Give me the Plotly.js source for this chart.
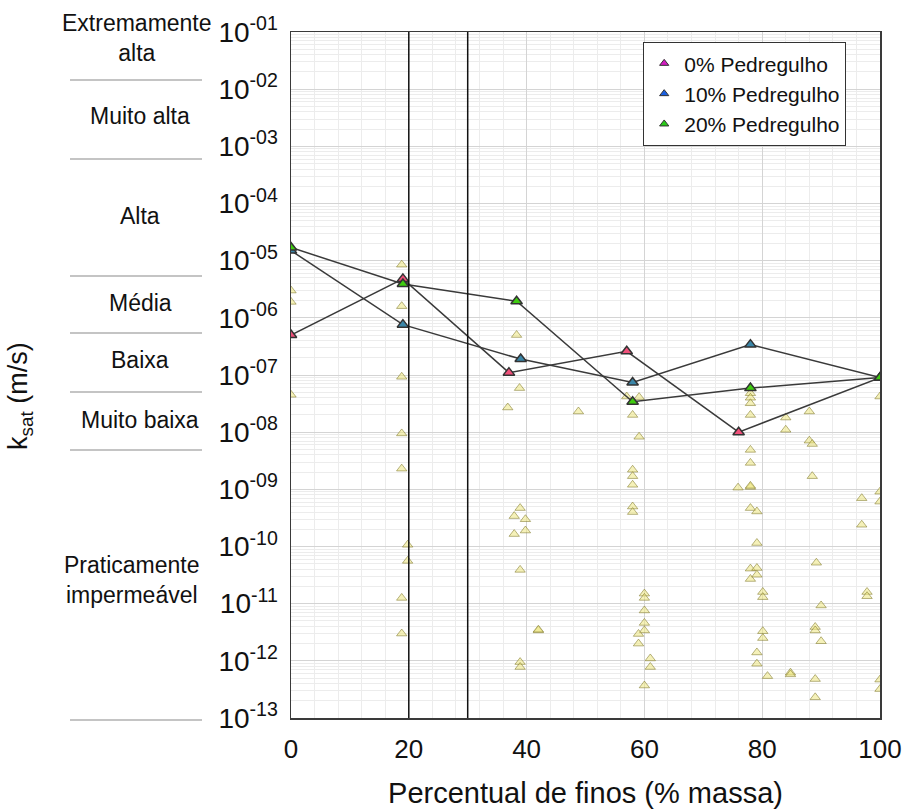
<!DOCTYPE html>
<html><head><meta charset="utf-8">
<script src="https://cdn.plot.ly/plotly-3.0.1.min.js"></script>
<style>html,body{margin:0;padding:0;background:#fff}#chart{width:904px;height:812px}</style>
</head><body><div id="chart"></div>
<script>
// ---- data ----
const seriesNames = ['0% Pedregulho', '10% Pedregulho', '20% Pedregulho'];
const finos0 = [0, 19, 37, 57, 76, 100];
const ksat0 = [5.0e-7, 4.8e-6, 1.1e-7, 2.6e-7, 1.0e-8, 9.0e-8];
const finos10 = [0, 19, 39, 58, 78, 100];
const ksat10 = [1.5e-5, 7.6e-7, 1.9e-7, 7.4e-8, 3.4e-7, 9.0e-8];
const finos20 = [0, 19, 38.3, 58, 78, 100];
const ksat20 = [1.7e-5, 3.9e-6, 1.95e-6, 3.4e-8, 5.9e-8, 9.0e-8];

// background data set (other soils)
const bgFinos = [
  0, 0, 0,
  18.8, 18.8, 18.8, 18.8, 18.8, 18.8, 18.8,
  19.8, 19.8,
  36.8, 38.3, 38.8, 48.8,
  38.9, 38.9, 38.9, 38.9,
  37.9, 37.9, 39.8, 39.8,
  42, 42,
  57, 59.1, 59.1,
  58, 58, 58, 58, 58, 58,
  60, 60, 60, 60, 60, 60,
  59, 59, 61, 61,
  78, 78, 78, 78, 78, 78, 78, 78, 78, 78, 78,
  75.9,
  79.1, 79.1, 79.1, 79.1, 79.1, 79.1,
  80.1, 80.1, 80.1, 80.1,
  80.9,
  84, 84, 84.8, 84.8,
  88, 88, 88.5, 88.5,
  89.2, 90, 90,
  89, 89, 89, 89,
  96.9, 96.9, 97.8, 97.8,
  100, 100, 100, 100, 100
];
const bgKsat = [
  3.0e-6, 1.9e-6, 4.5e-8,
  8.5e-6, 1.6e-6, 9.3e-8, 9.5e-9, 2.3e-9, 1.26e-11, 3.0e-12,
  1.07e-10, 5.6e-11,
  2.7e-8, 5.0e-7, 5.9e-8, 2.3e-8,
  4.7e-10, 3.9e-11, 9.5e-13, 7.8e-13,
  3.4e-10, 1.65e-10, 3.0e-10, 1.9e-10,
  3.4e-12, 3.5e-12,
  4.2e-8, 4.1e-8, 8.3e-9,
  2.0e-8, 2.2e-9, 1.7e-9, 1.2e-9, 5.0e-10, 4.0e-10,
  1.5e-11, 1.26e-11, 7.6e-12, 4.6e-12, 3.4e-12, 3.7e-13,
  2.95e-12, 2.0e-12, 1.1e-12, 7.8e-13,
  4.8e-8, 4.0e-8, 3.2e-8, 2.0e-8, 4.9e-9, 2.9e-9, 1.1e-9, 1.15e-9, 4.7e-10, 4.1e-11, 2.7e-11,
  1.07e-9,
  4.1e-10, 1.15e-10, 4.2e-11, 3.2e-11, 1.4e-12, 8.9e-13,
  1.6e-11, 1.3e-11, 3.3e-12, 2.5e-12,
  5.4e-13,
  1.8e-8, 1.1e-8, 6.2e-13, 5.8e-13,
  2.3e-8, 7.1e-9, 6.2e-9, 1.7e-9,
  5.2e-11, 9.3e-12, 2.2e-12,
  3.9e-12, 3.4e-12, 4.8e-13, 2.3e-13,
  7.0e-10, 2.4e-10, 1.6e-11, 1.35e-11,
  4.2e-8, 9.1e-10, 6.1e-10, 4.7e-13, 3.2e-13
];

const yTickVals = [1e-1, 1e-2, 1e-3, 1e-4, 1e-5, 1e-6, 1e-7, 1e-8, 1e-9, 1e-10, 1e-11, 1e-12, 1e-13];
const yTickText = ['10<sup>-01</sup>', '10<sup>-02</sup>', '10<sup>-03</sup>', '10<sup>-04</sup>', '10<sup>-05</sup>',
  '10<sup>-06</sup>', '10<sup>-07</sup>', '10<sup>-08</sup>', '10<sup>-09</sup>', '10<sup>-10</sup>',
  '10<sup>-11</sup>', '10<sup>-12</sup>', '10<sup>-13</sup>'];
const classNames = ['Extremamente<br>alta', 'Muito alta', 'Alta', 'Média', 'Baixa', 'Muito baixa', 'Praticamente<br>impermeável'];
const fineLimits = [20, 30];

// ---- styling ----
const FONT = 'Liberation Sans, Arial, sans-serif';
const lineColors = ['#f0507a', '#3a86a8', '#3fcc10'];
const legendColors = ['#d21cc0', '#1a5fe0', '#28cc18'];

const traces = [];
traces.push({
  x: bgFinos, y: bgKsat, type: 'scatter', mode: 'markers', showlegend: false, hoverinfo: 'x+y',
  marker: {symbol: 'triangle-up', size: 9, color: 'rgba(236,229,128,0.55)',
           line: {color: 'rgba(125,118,40,0.55)', width: 1}}
});
const sx = [finos0, finos10, finos20], sy = [ksat0, ksat10, ksat20];
for (let i = 0; i < 3; i++) {
  traces.push({
    x: sx[i], y: sy[i], type: 'scatter', mode: 'lines+markers', name: seriesNames[i], showlegend: false,
    line: {color: '#3a3a3a', width: 1.5},
    marker: {symbol: 'triangle-up', size: 10, color: lineColors[i], line: {color: '#333', width: 1.5}}
  });
}
for (let i = 0; i < 3; i++) {
  traces.push({
    x: [null], y: [null], type: 'scatter', mode: 'markers', name: seriesNames[i], showlegend: true,
    marker: {symbol: 'triangle-up', size: 8, color: legendColors[i], line: {color: '#333', width: 1}}
  });
}

const L = 291, T = 32, W = 589, H = 686;
const px = v => (v - L) / W;
const py = v => (T + H - v) / H;

const classPos = [[137, 38], [140, 116], [140, 216], [140, 303], [140, 360], [140, 420], [132, 580]];
const annotations = classNames.map((t, i) => ({
  text: t, xref: 'paper', yref: 'paper', x: px(classPos[i][0]), y: py(classPos[i][1]),
  xanchor: 'center', yanchor: 'middle', showarrow: false, align: 'center',
  font: {family: FONT, size: 23, color: '#111'}
}));
annotations.push({
  text: 'k<sub>sat</sub> (m/s)', xref: 'paper', yref: 'paper', x: px(20), y: py(396),
  xanchor: 'center', yanchor: 'middle', showarrow: false, textangle: -90,
  font: {family: FONT, size: 27, color: '#111'}
});

const sepY = [80, 159, 276, 333, 392, 450, 720];
const shapes = sepY.map(v => ({
  type: 'line', xref: 'paper', yref: 'paper', x0: px(70), x1: px(202), y0: py(v), y1: py(v),
  line: {color: '#8a8a8a', width: 1.2}
}));
fineLimits.forEach(v => shapes.push({
  type: 'line', xref: 'x', yref: 'paper', x0: v, x1: v, y0: 0, y1: 1, layer: 'above',
  line: {color: '#111', width: 1.5}
}));

const layout = {
  width: 904, height: 812,
  margin: {l: L, r: 904 - L - W, t: T, b: 812 - T - H},
  paper_bgcolor: '#fff', plot_bgcolor: '#fff',
  font: {family: FONT, color: '#111'},
  showlegend: true,
  legend: {x: px(643), y: py(42), xanchor: 'left', yanchor: 'top', bgcolor: '#fff',
           bordercolor: '#333', borderwidth: 1.2, font: {family: FONT, size: 21, color: '#111'},
           itemwidth: 30, tracegroupgap: 0},
  xaxis: {
    range: [0, 100], tickmode: 'linear', tick0: 0, dtick: 20, ticks: '', ticklabelstandoff: 7,
    tickfont: {family: FONT, size: 26, color: '#111'},
    showgrid: true, gridcolor: '#d4d4d4', gridwidth: 1,
    minor: {dtick: 4, showgrid: true, gridcolor: '#ececec', gridwidth: 1},
    showline: true, linecolor: '#3a3a3a', linewidth: 1.5, mirror: true, zeroline: false,
    title: {text: 'Percentual de finos (% massa)', font: {family: FONT, size: 29, color: '#111'}, standoff: 20},
    automargin: false
  },
  yaxis: {
    type: 'log', range: [-13, -1], tickmode: 'array', tickvals: yTickVals, ticktext: yTickText,
    ticks: '', ticklabelstandoff: 6,
    tickfont: {family: FONT, size: 28, color: '#111'},
    showgrid: true, gridcolor: '#d4d4d4', gridwidth: 1,
    minor: {dtick: 'D1', showgrid: true, gridcolor: '#ececec', gridwidth: 1},
    showline: true, linecolor: '#3a3a3a', linewidth: 1.5, mirror: true, zeroline: false,
    automargin: false
  },
  annotations: annotations,
  shapes: shapes
};

Plotly.newPlot('chart', traces, layout, {staticPlot: true, displayModeBar: false});
</script>
</body></html>
